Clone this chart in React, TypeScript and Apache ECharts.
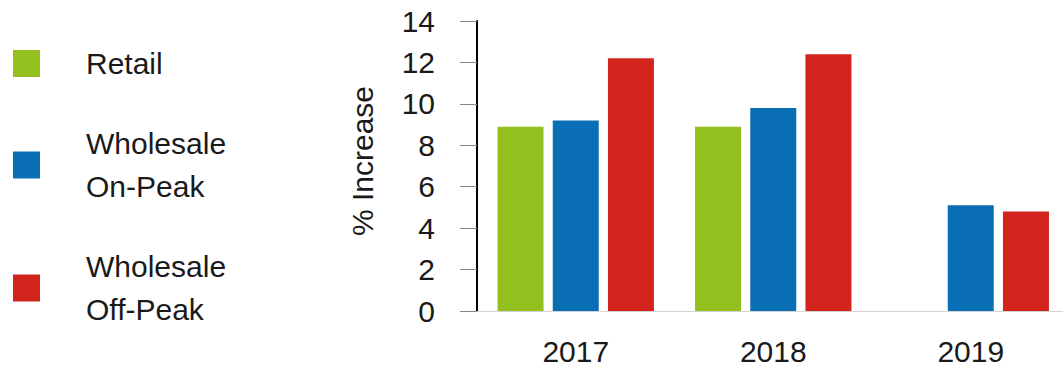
import React, { useEffect, useRef } from "react";
import * as echarts from "echarts";

const categories = ["2017", "2018", "2019"];
const retail: (number | null)[] = [8.9, 8.9, null];
const onPeak = [9.2, 9.8, 5.1];
const offPeak = [12.2, 12.4, 4.8];
const seriesNames = ["Retail", "Wholesale\nOn-Peak", "Wholesale\nOff-Peak"];
const colors = ["#93c01f", "#0a6eb4", "#d2231c"];
const yMin = 0;
const yMax = 14;
const yInterval = 2;

export default function App() {
  const ref = useRef<HTMLDivElement>(null);
  useEffect(() => {
    if (!ref.current) return;
    const chart = echarts.init(ref.current, undefined, { renderer: "svg" });
    const font = "Liberation Sans, Arial, sans-serif";
    const barCommon = {
      type: "bar" as const,
      barWidth: 46,
      barGap: "20%",
    };
    chart.setOption({
      animation: false,
      color: colors,
      textStyle: { fontFamily: font },
      legend: {
        orient: "vertical",
        left: 13,
        top: 42,
        padding: 0,
        icon: "rect",
        itemWidth: 27,
        itemHeight: 27,
        itemGap: 37,
        selectedMode: false,
        textStyle: {
          fontFamily: font,
          fontSize: 30,
          color: "#1a1a1a",
          lineHeight: 43,
          padding: [0, 0, 0, 41],
        },
        data: seriesNames,
      },
      grid: { left: 477, top: 21, bottom: 57, right: 10.5, containLabel: false },
      xAxis: {
        type: "category",
        data: categories,
        axisLine: { show: true, lineStyle: { color: "#d4d4d4", width: 1 } },
        axisTick: { show: false },
        axisLabel: { fontSize: 30, color: "#1a1a1a", margin: 25, fontFamily: font },
      },
      yAxis: {
        type: "value",
        min: yMin,
        max: yMax,
        interval: yInterval,
        name: "% Increase",
        nameLocation: "middle",
        nameRotate: 90,
        nameGap: 100,
        nameTextStyle: { fontSize: 30, color: "#1a1a1a", fontFamily: font, padding: [0, 0, 0, 10] },
        axisLine: { show: true, lineStyle: { color: "#000", width: 2 } },
        axisTick: { show: true, length: 17, lineStyle: { color: "#888", width: 1 } },
        axisLabel: { fontSize: 30, color: "#1a1a1a", margin: 42, fontFamily: font },
        splitLine: { show: false },
      },
      series: [
        { ...barCommon, name: seriesNames[0], data: retail.map((v) => (v === null ? "-" : v)) },
        { ...barCommon, name: seriesNames[1], data: onPeak },
        { ...barCommon, name: seriesNames[2], data: offPeak },
      ],
    });
    return () => chart.dispose();
  }, []);
  return (
    <div
      ref={ref}
      style={{ position: "fixed", left: 0, top: 0, width: 1080, height: 368, background: "#fff" }}
    />
  );
}
